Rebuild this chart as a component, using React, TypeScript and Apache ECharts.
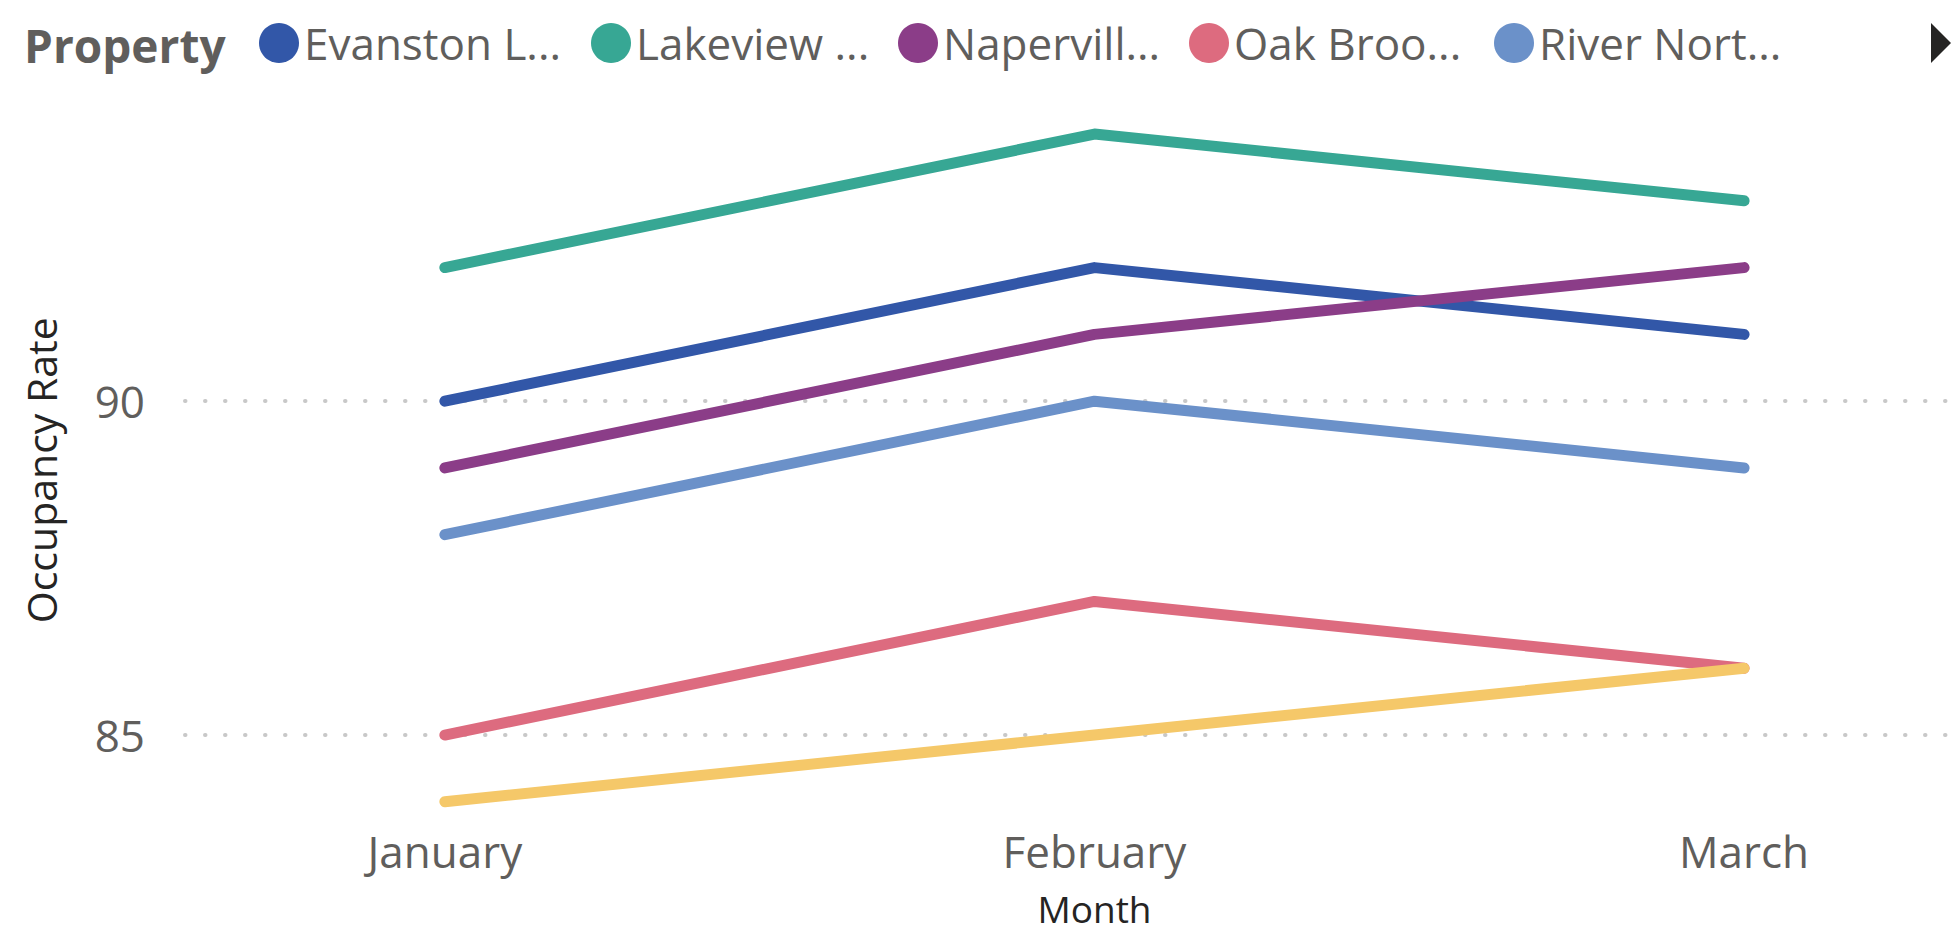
import React, { useEffect, useRef } from "react";
import * as echarts from "echarts";

const months = ["January", "February", "March"];
const seriesNames = ["Evanston L...", "Lakeview ...", "Napervill...", "Oak Broo...", "River Nort...", "Other"];
const evanston = [90, 92, 91];
const lakeview = [92, 94, 93];
const naperville = [89, 91, 92];
const oakBrook = [85, 87, 86];
const riverNorth = [88, 90, 89];
const sixth = [84, 85, 86];
const seriesValues = [evanston, lakeview, naperville, oakBrook, riverNorth, sixth];
const colors = ["#3257A8", "#37A794", "#8B3D88", "#DD6B7F", "#6B91C9", "#F5C869"];
const yTicks = [85, 90];
const xTicks = [0, 1, 2];
const legendLefts = [259, 591, 898, 1189, 1494];

const FONT = "'Open Sans', 'Noto Sans', sans-serif";

export default function App() {
  const ref = useRef<HTMLDivElement>(null);
  useEffect(() => {
    document.body.style.margin = "0";
    if (!ref.current) return;
    const chart = echarts.init(ref.current, null, { renderer: "svg" });
    chart.setOption({
      animation: false,
      color: colors,
      title: {
        text: "Property",
        left: 19,
        top: 17,
        textStyle: { fontFamily: FONT, fontSize: 46, fontWeight: "bold", color: "#605E5C" },
      },
      legend: legendLefts.map((left, i) => ({
        data: [seriesNames[i]],
        left,
        top: 21,
        padding: 0,
        icon: "circle",
        itemWidth: 40,
        itemHeight: 40,
        itemGap: 0,
        textStyle: { fontFamily: FONT, fontSize: 44, color: "#605E5C" },
      })),
      graphic: [
        {
          type: "polygon",
          shape: { points: [[1931, 23], [1951, 43], [1931, 63]] },
          style: { fill: "#252423" },
        },
      ],
      grid: { left: 185, right: 8, top: 94, bottom: 106.5, containLabel: false, outerBoundsMode: "none" },
      xAxis: {
        type: "value",
        min: -0.4,
        max: 2.317,
        name: "Month",
        nameLocation: "middle",
        nameGap: 61,
        nameTextStyle: { fontFamily: FONT, fontSize: 37, lineHeight: 37, color: "#252423", padding: [0, 0, 0, 54] },
        axisLine: { show: false },
        axisTick: { show: false, customValues: xTicks },
        splitLine: { show: false },
        axisLabel: {
          customValues: xTicks,
          margin: 0,
          fontFamily: FONT,
          fontSize: 44,
          color: "#605E5C",
          formatter: (v: number) => months[Math.round(v)] ?? "",
        },
      },
      yAxis: {
        type: "value",
        min: 83.6,
        max: 94.6,
        name: "Occupancy Rate",
        nameLocation: "middle",
        nameGap: 124,
        nameRotate: 90,
        nameTextStyle: { fontFamily: FONT, fontSize: 41, color: "#252423", padding: [0, 18, 0, 0] },
        axisLine: { show: false },
        axisTick: { show: false, customValues: yTicks },
        axisLabel: {
          customValues: yTicks,
          margin: 40,
          fontFamily: FONT,
          fontSize: 44,
          color: "#605E5C",
        },
        splitLine: {
          show: true,
          lineStyle: { color: "#C8C8C8", width: 4, type: [0.5, 19.5], cap: "round" },
        },
      },
      series: seriesNames.map((name, i) => ({
        name,
        type: "line",
        data: seriesValues[i].map((v, j) => [j, v]),
        showSymbol: false,
        symbol: "circle",
        lineStyle: { width: 11, color: colors[i], cap: "round", join: "round" },
        itemStyle: { color: colors[i] },
      })),
    });
    return () => chart.dispose();
  }, []);
  return <div ref={ref} style={{ width: 1958, height: 935 }} />;
}
